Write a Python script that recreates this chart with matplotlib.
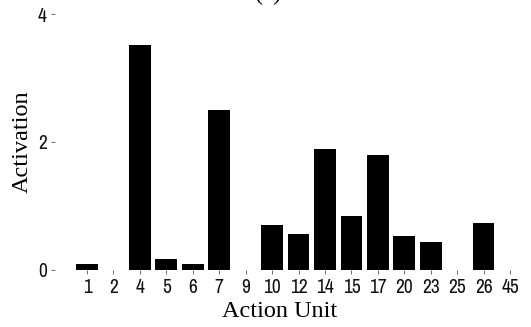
import matplotlib.pyplot as plt
from matplotlib import font_manager

# action units and their mean activation
action_units = ["1", "2", "4", "5", "6", "7", "9", "10", "12", "14", "15", "17", "20", "23", "25", "26", "45"]
activation = [0.08, 0.0, 3.51, 0.17, 0.08, 2.49, 0.0, 0.70, 0.56, 1.88, 0.83, 1.80, 0.53, 0.43, 0.0, 0.73, 0.0]
y_ticks = [0, 2, 4]

# look for a narrow sans for the tick labels
names = sorted({f.name for f in font_manager.fontManager.ttflist})
narrow = [n for n in names if "Narrow" in n or "Condensed" in n]

W, H = 531, 327
fig = plt.figure(figsize=(W / 100, H / 100), dpi=100)

# panel placed in pixel terms
left, right, top, bottom = 55, 522, 14, 269.5
ax = fig.add_axes([left / W, 1 - bottom / H, (right - left) / W, (bottom - top) / H])

x = range(len(action_units))
ax.bar(x, activation, width=0.82, color="black", zorder=2)

ax.set_xlim(-1.21, 16.45)
ax.set_ylim(0, 4)
ax.set_xticks(list(x))
ax.set_xticklabels(action_units)
ax.set_yticks(y_ticks)

# no frame, only short grey ticks like the original
for s in ax.spines.values():
    s.set_visible(False)
ax.tick_params(axis="both", length=3, width=0.6, color="#555555", pad=3,
               labelsize=14, labelcolor="#111111")
for lab in ax.get_xticklabels() + ax.get_yticklabels():
    if narrow:
        lab.set_family(narrow[0])
    else:
        lab.set_family("DejaVu Sans")
        lab.set_fontstretch("condensed")
    lab.set_fontweight("light")

serif = ["Liberation Serif", "DejaVu Serif"]
fig.text(279.5 / W, 1 - 311.5 / H, "Action Unit", ha="center", va="center",
         fontsize=17.5, family=serif)
fig.text(22 / W, 1 - 141.5 / H, "Activation", ha="center", va="center",
         rotation=90, fontsize=17.5, family=serif)
fig.text(268 / W, 1.0, "(a)", ha="center", va="baseline", fontsize=17.5, family=serif)

fig.savefig("out.png", dpi=100)
